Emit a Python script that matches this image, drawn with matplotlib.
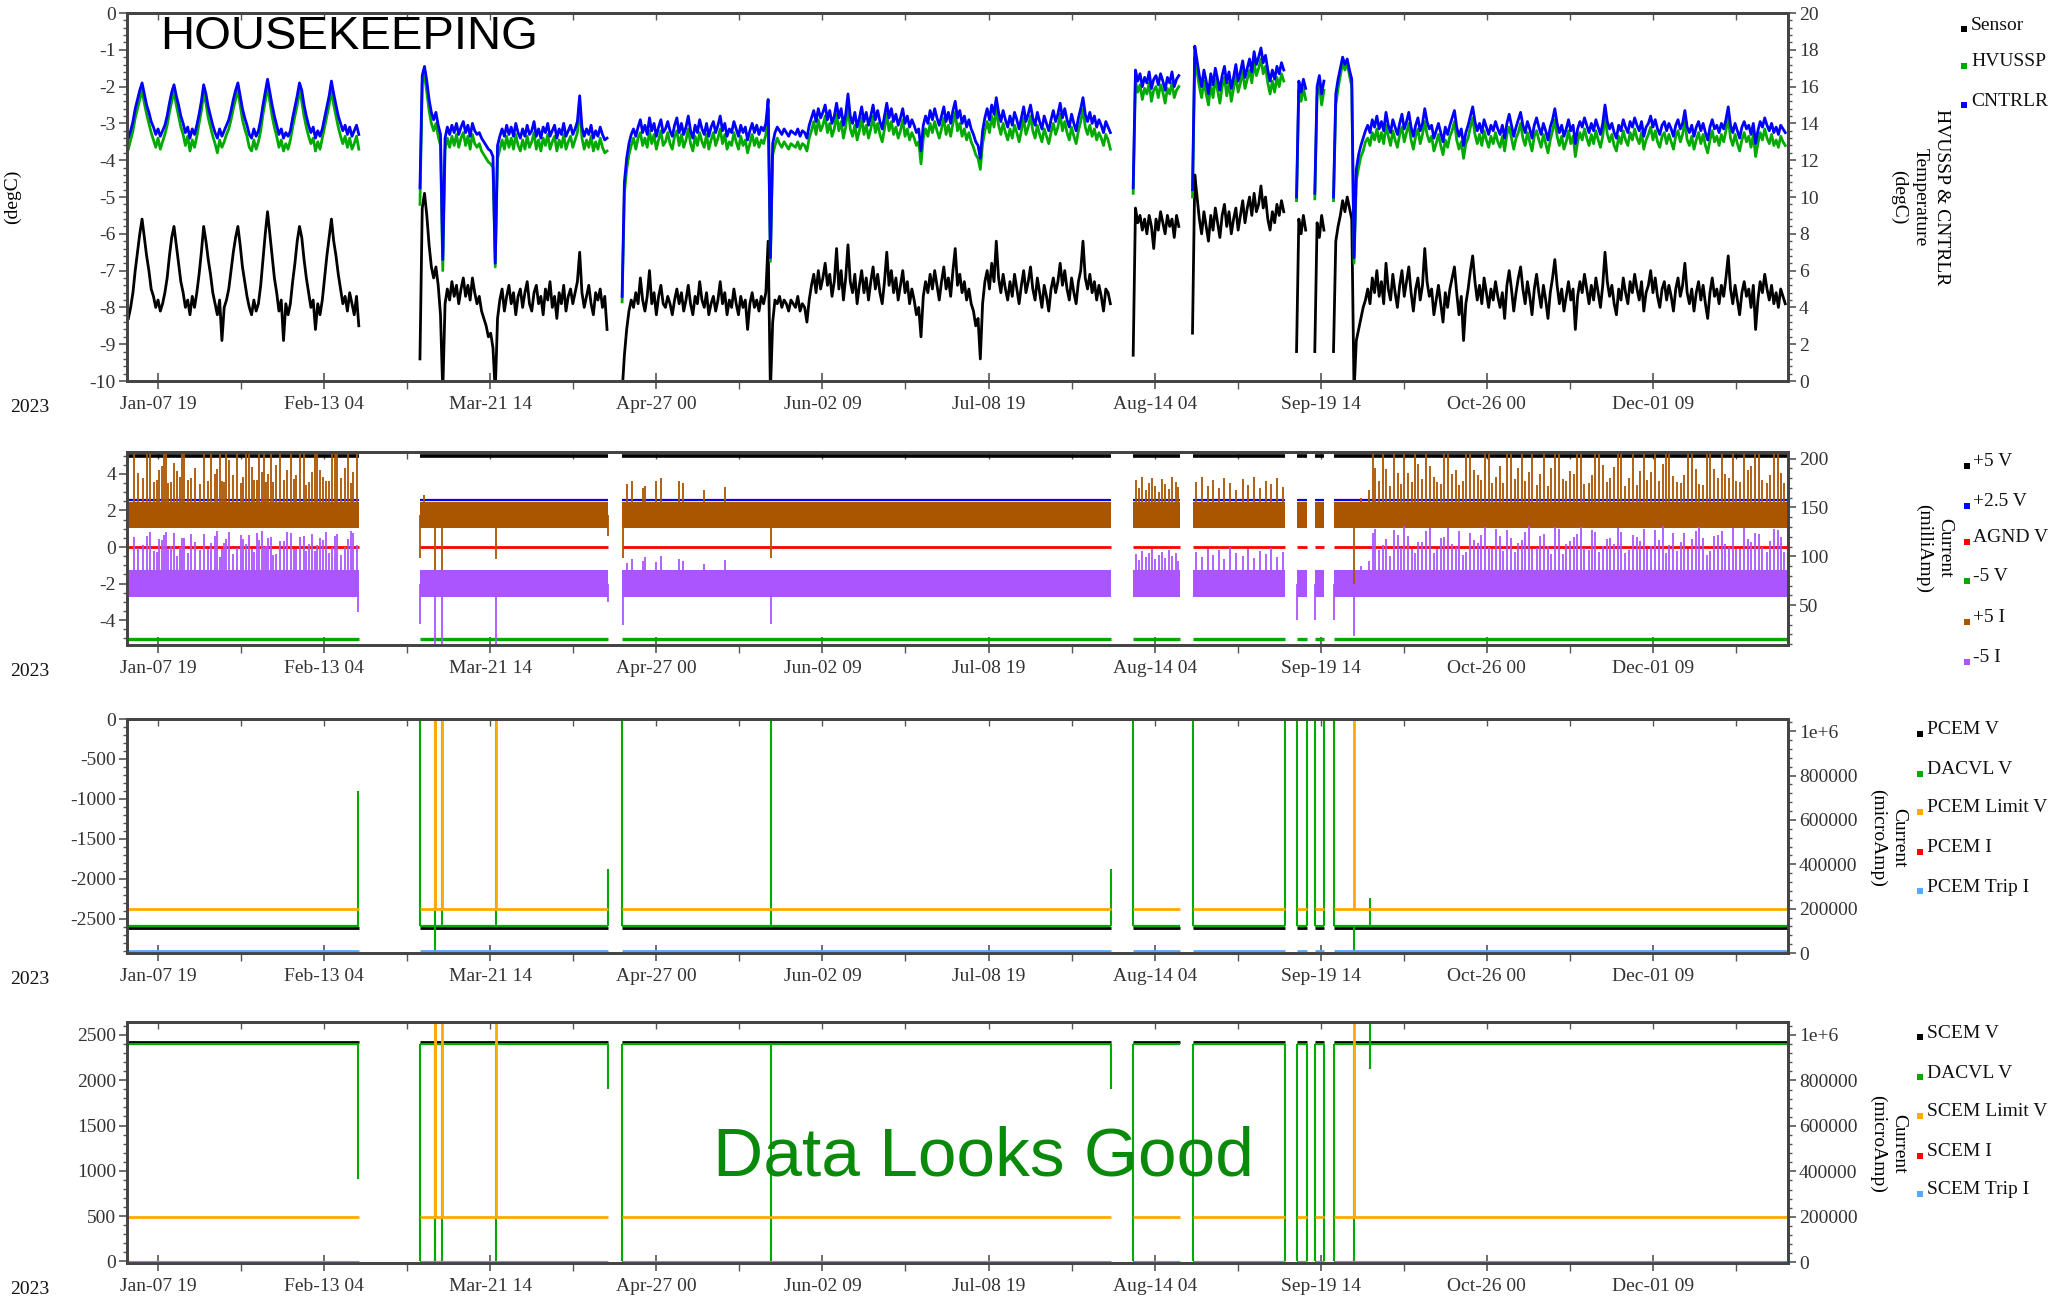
import matplotlib
matplotlib.use('Agg')
import matplotlib.pyplot as plt
import numpy as np
from matplotlib.ticker import MultipleLocator, FixedLocator, FuncFormatter, NullFormatter
from matplotlib.patches import Rectangle

plt.rcParams['font.family'] = ['Liberation Serif', 'DejaVu Serif']
plt.rcParams['axes.unicode_minus'] = False

# ---------------- data (x = days since 2023-01-01) ----------------
# data blocks (gaps in telemetry between them)
seg_start = [0.3, 64.2, 108.5, 220.5, 233.5, 256.3, 260.3, 264.4]
seg_end = [50.8, 105.4, 215.7, 230.7, 253.8, 258.5, 262.4, 363.8]
SAMPLE = 0.5  # days between plotted temperature samples

tick_labels = ['Jan-07 19', 'Feb-13 04', 'Mar-21 14', 'Apr-27 00', 'Jun-02 09',
               'Jul-08 19', 'Aug-14 04', 'Sep-19 14', 'Oct-26 00', 'Dec-01 09']

# Sensor temperature (left axis, degC), one list per data block
sensor_degC = [
    [-8.3, -8.0, -7.6, -7.0, -6.5, -6.0, -5.6, -6.1, -6.6, -7.0,
     -7.5, -7.7, -8.0, -7.8, -8.1, -7.9, -7.6, -7.2, -6.6, -6.1,
     -5.8, -6.3, -6.8, -7.3, -7.6, -8.0, -7.8, -8.2, -7.7, -8.0,
     -7.6, -7.1, -6.5, -5.8, -6.2, -6.7, -7.1, -7.6, -7.9, -8.2,
     -7.8, -8.9, -8.0, -7.8, -7.5, -7.0, -6.5, -6.1, -5.8, -6.3,
     -6.9, -7.3, -7.7, -8.0, -8.2, -7.8, -8.1, -7.9, -7.4, -6.7,
     -6.0, -5.4, -6.0, -6.6, -7.2, -7.6, -8.1, -7.8, -8.9, -7.9,
     -8.2, -7.9, -7.3, -6.8, -6.2, -5.8, -6.1, -6.7, -7.2, -7.6,
     -8.0, -7.8, -8.6, -7.9, -8.2, -7.8, -7.2, -6.6, -6.1, -5.6,
     -6.2, -6.6, -7.1, -7.5, -7.9, -7.7, -8.1, -7.6, -7.9, -8.2,
     -7.7, -8.5],
    [-9.4, -5.3, -4.9, -5.5, -6.3, -6.9, -7.2, -6.9, -7.4, -8.2,
     -10.3, -7.9, -7.5, -7.8, -7.3, -7.7, -7.4, -7.9, -7.5, -7.2,
     -7.7, -7.4, -7.8, -7.2, -7.6, -7.9, -7.7, -8.1, -8.3, -8.5,
     -8.8, -8.7, -9.1, -10.3, -8.3, -7.8, -7.5, -8.1, -7.7, -7.4,
     -7.9, -7.6, -8.2, -7.7, -7.5, -8.0, -7.6, -7.3, -7.9, -8.1,
     -7.6, -7.4, -7.9, -7.7, -8.2, -7.5, -7.8, -7.3, -8.0, -7.7,
     -8.3, -7.6, -7.9, -7.4, -8.1, -7.7, -7.5, -7.9, -7.6, -7.3,
     -6.5, -7.6, -8.0, -7.7, -7.4, -7.9, -8.2, -7.6, -7.8, -7.5,
     -8.0, -7.7, -8.6],
    [-10.3, -9.3, -8.6, -8.1, -7.8, -8.0, -7.6, -7.9, -7.2, -7.8,
     -8.1, -7.7, -7.0, -7.9, -7.6, -8.2, -7.7, -7.4, -7.9, -8.0,
     -7.7, -7.9, -8.2, -7.8, -7.5, -7.9, -7.6, -8.1, -7.8, -7.4,
     -7.9, -8.2, -7.7, -7.9, -7.3, -7.8, -8.0, -7.6, -8.2, -7.9,
     -7.7, -8.1, -7.8, -7.3, -7.9, -7.6, -8.2, -7.8, -8.0, -7.5,
     -7.9, -8.2, -7.7, -8.0, -7.8, -8.6, -7.9, -7.6, -8.0, -7.8,
     -8.1, -7.7, -7.9, -7.6, -6.2, -10.3, -8.4, -7.8, -7.9, -7.7,
     -8.0, -7.8, -7.9, -8.1, -7.8, -7.9, -8.0, -7.7, -8.1, -7.9,
     -8.0, -8.4, -7.8, -7.4, -7.1, -7.6, -7.0, -7.5, -7.2, -6.8,
     -7.4, -7.1, -7.7, -7.3, -6.4, -7.5, -7.0, -7.8, -7.2, -6.3,
     -7.3, -7.6, -7.1, -7.9, -7.4, -7.0, -7.6, -7.2, -7.8, -7.3,
     -6.9, -7.5, -7.1, -7.6, -7.9, -7.3, -6.5, -7.4, -7.0, -7.6,
     -7.2, -7.8, -7.4, -7.0, -7.6, -7.3, -7.9, -7.5, -7.8, -8.2,
     -8.0, -8.8, -7.7, -7.3, -7.6, -7.1, -7.5, -7.0, -7.4, -7.8,
     -7.3, -6.9, -7.5, -7.2, -7.7, -7.0, -6.4, -7.4, -7.1, -7.6,
     -7.3, -7.8, -7.5, -7.9, -8.1, -8.5, -8.3, -9.4, -7.9, -7.3,
     -7.0, -7.5, -6.8, -7.3, -6.2, -7.2, -7.6, -7.1, -7.5, -7.8,
     -7.3, -7.7, -7.1, -7.5, -7.9, -7.4, -7.0, -7.6, -7.3, -6.9,
     -7.5, -7.8, -7.2, -7.6, -8.0, -7.4, -7.7, -8.1, -7.5, -7.2,
     -7.6, -7.3, -6.8, -7.4, -7.0, -7.5, -7.8, -7.2, -7.6, -7.9,
     -7.3, -7.0, -6.2, -7.2, -7.5, -7.1, -7.6, -7.3, -7.8, -7.4,
     -7.7, -8.1, -7.5, -7.6, -7.9],
    [-9.3, -5.3, -5.7, -5.5, -5.9, -5.6, -6.0, -5.5, -5.8, -6.4,
     -5.6, -5.9, -5.4, -5.7, -6.0, -5.5, -5.8, -5.6, -6.1, -5.5, -5.8],
    [-8.7, -4.4, -5.0, -5.6, -6.0, -5.4, -5.8, -6.2, -5.5, -5.9,
     -5.3, -5.7, -6.1, -5.5, -5.2, -5.8, -5.4, -6.0, -5.6, -5.3,
     -5.9, -5.5, -5.1, -5.7, -5.3, -5.0, -5.5, -4.9, -5.4, -5.2,
     -4.7, -5.3, -5.0, -5.6, -5.9, -5.4, -5.7, -5.2, -5.5, -5.1, -5.4],
    [-9.2, -5.6, -6.0, -5.5, -5.9],
    [-9.2, -5.7, -6.1, -5.5, -5.9],
    [-9.2, -6.2, -5.8, -5.5, -5.1, -5.4, -5.0, -5.3, -5.6,
     -10.3, -8.9, -8.6, -8.3, -8.0, -7.8, -7.5, -7.9, -7.2, -7.6,
     -7.0, -7.7, -7.3, -7.9, -6.8, -7.5, -7.8, -7.1, -7.6, -8.0,
     -7.4, -7.0, -7.7, -7.3, -6.9, -7.6, -8.1, -7.5, -7.2, -7.8,
     -7.4, -6.4, -7.3, -7.7, -7.5, -8.2, -7.8, -7.4, -7.9, -8.4,
     -7.6, -8.0, -7.5, -7.2, -6.9, -7.6, -8.2, -7.7, -8.9, -7.9,
     -7.5, -7.0, -6.6, -7.3, -7.8, -7.4, -7.9, -7.2, -7.6, -8.0,
     -7.5, -7.8, -7.3, -7.7, -8.0, -7.6, -8.3, -7.4, -7.0, -7.5,
     -8.1, -7.6, -7.2, -6.9, -7.5, -7.9, -7.3, -7.7, -8.2, -7.5,
     -7.1, -7.6, -8.0, -7.4, -7.8, -8.3, -7.6, -7.2, -6.7, -7.4,
     -7.9, -7.5, -8.1, -7.7, -7.3, -7.8, -7.5, -8.6, -7.7, -7.3,
     -7.6, -7.1, -7.5, -7.9, -7.4, -7.8, -7.2, -7.6, -8.0, -7.4,
     -6.5, -7.3, -7.7, -7.4, -7.9, -8.2, -7.5, -7.8, -7.2, -7.6,
     -7.9, -7.3, -7.6, -7.1, -7.5, -7.8, -7.3, -8.1, -7.6, -7.4,
     -7.0, -7.6, -7.2, -7.7, -8.0, -7.5, -7.3, -7.8, -7.4, -7.7,
     -8.1, -7.5, -7.2, -7.7, -7.4, -6.8, -7.6, -7.9, -7.5, -8.1,
     -7.6, -7.3, -7.8, -7.4, -7.9, -8.3, -7.6, -7.2, -7.7, -7.5,
     -7.9, -7.4, -7.7, -7.2, -6.6, -7.5, -7.9, -7.4, -7.8, -8.2,
     -7.6, -7.3, -7.7, -7.5, -8.0, -7.4, -8.6, -7.8, -7.3, -7.6,
     -7.1, -7.5, -7.8, -7.4, -7.9, -7.6, -8.0, -7.5, -7.7, -7.9],
]

# HVUSSP temperature (right axis, degC)
hvussp_degC = [
    [12.6, 13.1, 13.6, 14.3, 14.8, 15.3, 15.8, 15.1, 14.5, 14.0,
     13.5, 13.1, 12.7, 13.2, 12.6, 13.0, 13.4, 13.9, 14.6, 15.2,
     15.7, 15.0, 14.4, 13.8, 13.4, 12.8, 13.3, 12.5, 13.1, 12.7,
     13.3, 14.0, 14.7, 15.6, 15.1, 14.3, 13.8, 13.3, 12.9, 12.4,
     13.1, 12.7, 13.0, 13.4, 13.7, 14.2, 14.8, 15.3, 15.8, 15.0,
     14.2, 13.7, 13.3, 12.7, 12.5, 13.1, 12.6, 13.0, 13.6, 14.5,
     15.2, 16.0, 15.2, 14.4, 13.8, 13.3, 12.7, 13.1, 12.5, 12.9,
     12.6, 13.1, 13.8, 14.4, 15.0, 15.8, 15.2, 14.4, 13.8, 13.3,
     12.9, 13.2, 12.5, 13.0, 12.6, 13.2, 13.8, 14.4, 15.0, 15.8,
     15.0, 14.4, 13.8, 13.3, 12.9, 13.3, 12.7, 13.2, 12.6, 12.9,
     13.3, 12.6],
    [9.6, 16.2, 16.6, 15.7, 14.7, 14.0, 13.6, 14.0, 13.3, 12.8,
     6.0, 12.6, 13.2, 12.7, 13.3, 12.8, 13.4, 12.7, 13.2, 13.5,
     12.8, 13.3, 12.6, 13.4, 12.9, 12.7, 12.9, 12.5, 12.3, 12.1,
     11.9, 11.8, 11.6, 6.2, 12.1, 12.6, 13.1, 12.6, 13.3, 12.7,
     13.2, 12.6, 13.4, 12.8, 12.5, 13.1, 12.6, 13.3, 12.7, 13.0,
     13.5, 12.6, 13.1, 12.5, 13.2, 12.8, 13.4, 12.6, 13.0, 13.3,
     12.5, 13.1, 12.7, 13.4, 12.6, 13.0, 13.3, 12.7, 13.1, 13.5,
     15.0, 13.2, 12.6, 13.1, 12.7, 13.3, 12.5, 13.0, 12.6, 13.2,
     12.7, 12.4, 12.5],
    [4.3, 10.2, 11.5, 12.3, 12.8, 13.2, 12.6, 13.2, 13.5, 12.8,
     13.2, 12.7, 13.6, 12.9, 13.4, 12.6, 13.1, 13.6, 12.8, 13.0,
     13.5, 12.9, 12.6, 13.3, 13.6, 12.8, 13.4, 12.7, 13.1, 13.7,
     12.9, 12.5, 13.3, 12.8, 13.5, 13.0, 12.7, 13.4, 12.6, 13.1,
     13.5, 12.8, 13.2, 13.7, 12.9, 13.4, 12.6, 13.0, 12.8, 13.5,
     13.0, 12.6, 13.3, 12.8, 13.1, 12.4, 12.9, 13.4, 12.8, 13.2,
     12.7, 13.1, 12.9, 13.4, 14.8, 6.5, 12.3, 12.8, 13.2, 12.9,
     12.7, 13.0, 12.8, 12.6, 12.9, 12.8, 12.7, 13.0, 12.6, 12.9,
     12.8, 12.5, 13.2, 13.6, 14.1, 13.4, 14.2, 13.6, 13.9, 14.4,
     13.5, 14.0, 13.3, 13.7, 14.5, 13.6, 14.1, 13.2, 13.8, 15.0,
     13.7, 13.3, 13.9, 13.1, 13.6, 14.3, 13.4, 13.9, 13.2, 13.7,
     14.4, 13.5, 14.0, 13.4, 13.0, 13.7, 14.5, 13.6, 14.1, 13.4,
     13.8, 13.2, 13.6, 14.2, 13.3, 13.7, 13.1, 13.5, 13.2, 12.8,
     13.0, 11.8, 13.2, 13.7, 13.3, 14.0, 13.5, 14.1, 13.6, 13.2,
     13.7, 14.3, 13.4, 13.9, 13.3, 14.0, 14.6, 13.6, 14.0, 13.3,
     13.7, 13.1, 13.5, 13.0, 12.7, 12.3, 12.1, 11.5, 12.9, 13.6,
     14.1, 13.5, 14.4, 13.8, 14.8, 13.9, 13.4, 14.0, 13.5, 13.1,
     13.7, 13.2, 13.9, 13.5, 13.0, 13.6, 14.3, 13.4, 13.8, 14.4,
     13.6, 13.2, 13.9, 13.4, 13.0, 13.7, 13.3, 12.9, 13.5, 14.0,
     13.4, 13.8, 14.5, 13.6, 14.1, 13.5, 13.1, 13.8, 13.3, 12.9,
     13.6, 14.1, 14.8, 13.8, 13.4, 13.9, 13.3, 13.7, 13.1, 13.5,
     13.2, 12.8, 13.4, 13.1, 12.6],
    [10.2, 16.3, 15.7, 16.1, 15.3, 15.9, 15.6, 16.2, 15.2, 15.8,
     16.0, 15.4, 16.1, 15.7, 15.1, 15.9, 15.6, 16.2, 15.4, 15.8, 16.0],
    [10.0, 17.6, 16.8, 16.0, 15.4, 16.3, 15.6, 15.0, 16.1, 15.4,
     16.4, 15.8, 15.1, 16.0, 16.5, 15.5, 16.2, 15.2, 15.9, 16.6,
     15.7, 16.2, 16.8, 15.9, 16.4, 16.9, 16.2, 17.3, 16.6, 17.0,
     17.5, 16.7, 17.1, 16.2, 15.6, 16.3, 15.7, 16.5, 16.0, 16.7, 16.3],
    [9.8, 15.8, 15.2, 15.9, 15.3],
    [9.9, 15.5, 16.1, 15.0, 15.8],
    [9.8, 15.0, 15.9, 16.6, 17.3, 16.9, 17.3, 16.6, 16.0,
     6.4, 10.9, 11.6, 12.2, 12.5, 13.0, 13.2, 12.8, 13.5, 13.1,
     13.7, 13.0, 13.5, 12.9, 13.9, 13.3, 12.8, 13.6, 13.1, 12.7,
     13.4, 13.8, 13.0, 13.5, 14.0, 13.1, 12.6, 13.3, 13.7, 12.9,
     13.4, 14.1, 13.4, 13.0, 13.3, 12.5, 12.9, 13.4, 12.8, 12.3,
     13.1, 12.7, 13.3, 13.6, 14.1, 13.1, 12.6, 13.0, 12.1, 12.9,
     13.2, 13.8, 14.3, 13.4, 12.9, 13.4, 12.8, 13.6, 13.1, 12.7,
     13.3, 12.9, 13.5, 13.0, 12.7, 13.3, 12.5, 13.4, 13.8, 13.2,
     12.6, 13.2, 13.5, 14.0, 13.2, 12.8, 13.5, 13.0, 12.5, 13.3,
     13.6, 13.1, 12.7, 13.4, 12.9, 12.4, 13.1, 13.6, 14.2, 13.3,
     12.8, 13.3, 12.6, 13.0, 13.6, 12.9, 13.3, 12.2, 13.0, 13.5,
     13.1, 13.7, 13.2, 12.8, 13.4, 12.9, 13.6, 13.1, 12.7, 13.3,
     14.4, 13.4, 13.0, 13.4, 12.8, 12.5, 13.3, 12.9, 13.6, 13.1,
     12.8, 13.5, 13.1, 13.7, 13.2, 12.9, 13.5, 12.6, 13.1, 13.4,
     13.8, 13.1, 13.6, 13.0, 12.7, 13.3, 13.5, 12.9, 13.4, 13.0,
     12.6, 13.3, 13.6, 13.0, 13.4, 14.1, 13.1, 12.8, 13.3, 12.6,
     13.1, 13.5, 12.9, 13.4, 12.8, 12.4, 13.1, 13.6, 13.0, 13.3,
     12.8, 13.4, 13.0, 13.6, 14.3, 13.2, 12.8, 13.4, 12.9, 12.5,
     13.1, 13.5, 13.0, 13.3, 12.7, 13.4, 12.2, 12.9, 13.5, 13.1,
     13.7, 13.2, 12.9, 13.4, 12.8, 13.1, 12.7, 13.3, 13.0, 12.8],
]

# CNTRLR temperature (right axis, degC)
cntrlr_degC = [
    [13.2, 13.6, 14.1, 14.8, 15.3, 15.8, 16.2, 15.6, 15.0, 14.6,
     14.1, 13.8, 13.4, 13.7, 13.3, 13.6, 13.9, 14.4, 15.1, 15.7,
     16.1, 15.5, 15.0, 14.4, 14.0, 13.5, 13.8, 13.2, 13.7, 13.4,
     13.9, 14.5, 15.2, 16.1, 15.6, 14.9, 14.4, 13.9, 13.5, 13.2,
     13.7, 13.3, 13.6, 13.9, 14.2, 14.7, 15.3, 15.8, 16.2, 15.5,
     14.8, 14.3, 13.9, 13.4, 13.2, 13.7, 13.3, 13.6, 14.2, 15.0,
     15.7, 16.4, 15.7, 15.0, 14.4, 13.9, 13.4, 13.7, 13.2, 13.5,
     13.3, 13.6, 14.3, 14.9, 15.5, 16.2, 15.8, 15.0, 14.4, 13.9,
     13.5, 13.8, 13.2, 13.6, 13.3, 13.7, 14.3, 14.9, 15.5, 16.3,
     15.6, 15.0, 14.4, 14.0, 13.6, 13.9, 13.4, 13.8, 13.3, 13.6,
     13.9, 13.4],
    [10.5, 16.6, 17.1, 16.3, 15.3, 14.6, 14.2, 14.6, 13.9, 13.4,
     6.6, 13.2, 13.8, 13.4, 13.9, 13.5, 14.0, 13.4, 13.8, 14.1,
     13.5, 13.9, 13.3, 14.0, 13.6, 13.4, 13.5, 13.2, 13.0, 12.8,
     12.6, 12.5, 12.2, 6.4, 12.8, 13.3, 13.7, 13.3, 13.9, 13.4,
     13.8, 13.3, 14.0, 13.5, 13.2, 13.7, 13.3, 13.9, 13.4, 13.6,
     14.1, 13.3, 13.7, 13.2, 13.8, 13.5, 14.0, 13.3, 13.6, 13.9,
     13.2, 13.7, 13.4, 14.0, 13.3, 13.6, 13.9, 13.4, 13.7, 14.1,
     15.5, 13.8, 13.3, 13.7, 13.4, 13.9, 13.2, 13.6, 13.3, 13.8,
     13.4, 13.1, 13.2],
    [4.6, 10.8, 12.1, 12.9, 13.4, 13.7, 13.3, 13.8, 14.2, 13.5,
     13.9, 13.4, 14.3, 13.6, 14.0, 13.3, 13.8, 14.2, 13.5, 13.7,
     14.1, 13.6, 13.3, 13.9, 14.3, 13.5, 14.0, 13.4, 13.8, 14.4,
     13.6, 13.2, 13.9, 13.5, 14.2, 13.7, 13.4, 14.0, 13.3, 13.8,
     14.1, 13.5, 13.9, 14.4, 13.6, 14.0, 13.3, 13.7, 13.5, 14.1,
     13.7, 13.3, 13.9, 13.5, 13.8, 13.1, 13.6, 14.0, 13.5, 13.9,
     13.4, 13.8, 13.6, 14.0, 15.3, 6.7, 12.9, 13.5, 13.8, 13.6,
     13.4, 13.7, 13.5, 13.3, 13.6, 13.5, 13.4, 13.7, 13.3, 13.6,
     13.5, 13.2, 13.9, 14.3, 14.7, 14.1, 14.8, 14.3, 14.6, 15.0,
     14.2, 14.7, 14.0, 14.4, 15.1, 14.3, 14.8, 13.9, 14.5, 15.6,
     14.4, 14.0, 14.6, 13.8, 14.3, 14.9, 14.1, 14.6, 13.9, 14.4,
     15.0, 14.2, 14.7, 14.1, 13.7, 14.4, 15.1, 14.3, 14.8, 14.1,
     14.5, 13.9, 14.3, 14.8, 14.0, 14.4, 13.8, 14.2, 13.9, 13.5,
     13.7, 12.5, 13.9, 14.4, 14.0, 14.7, 14.2, 14.8, 14.3, 13.9,
     14.4, 14.9, 14.1, 14.6, 14.0, 14.7, 15.2, 14.3, 14.7, 14.0,
     14.4, 13.8, 14.2, 13.7, 13.4, 13.0, 12.8, 12.1, 13.6, 14.3,
     14.8, 14.2, 15.0, 14.5, 15.4, 14.6, 14.1, 14.7, 14.2, 13.8,
     14.4, 13.9, 14.6, 14.2, 13.7, 14.3, 14.9, 14.1, 14.5, 15.0,
     14.3, 13.9, 14.6, 14.1, 13.7, 14.4, 14.0, 13.6, 14.2, 14.7,
     14.1, 14.5, 15.1, 14.3, 14.8, 14.2, 13.8, 14.5, 14.0, 13.6,
     14.3, 14.8, 15.4, 14.5, 14.1, 14.6, 14.0, 14.4, 13.8, 14.2,
     13.9, 13.5, 14.1, 13.8, 13.5],
    [10.5, 16.9, 16.3, 16.7, 16.0, 16.5, 16.2, 16.8, 15.9, 16.4,
     16.6, 16.1, 16.7, 16.3, 15.8, 16.5, 16.2, 16.8, 16.0, 16.4, 16.6],
    [10.4, 18.2, 17.4, 16.6, 16.0, 16.9, 16.3, 15.6, 16.7, 16.1,
     17.0, 16.4, 15.8, 16.6, 17.1, 16.2, 16.8, 15.9, 16.5, 17.2,
     16.3, 16.8, 17.4, 16.5, 17.0, 17.5, 16.8, 17.9, 17.2, 17.6,
     18.1, 17.3, 17.7, 16.9, 16.3, 16.9, 16.4, 17.1, 16.7, 17.3, 16.9],
    [10.0, 16.3, 15.7, 16.4, 15.9],
    [10.2, 16.0, 16.6, 15.6, 16.3],
    [10.0, 15.6, 16.4, 17.0, 17.6, 17.2, 17.5, 16.9, 16.4,
     6.7, 11.5, 12.3, 12.8, 13.2, 13.6, 13.9, 13.5, 14.2, 13.8,
     14.4, 13.7, 14.1, 13.6, 14.6, 13.9, 13.5, 14.2, 13.8, 13.4,
     14.0, 14.5, 13.7, 14.1, 14.6, 13.8, 13.3, 13.9, 14.3, 13.6,
     14.0, 14.8, 14.1, 13.7, 13.9, 13.2, 13.6, 14.0, 13.5, 13.0,
     13.8, 13.4, 13.9, 14.3, 14.7, 13.8, 13.3, 13.7, 12.8, 13.5,
     13.9, 14.4, 14.9, 14.1, 13.6, 14.0, 13.5, 14.2, 13.8, 13.4,
     13.9, 13.6, 14.1, 13.7, 13.4, 13.9, 13.2, 14.0, 14.5, 13.9,
     13.3, 13.8, 14.2, 14.6, 13.9, 13.5, 14.1, 13.7, 13.2, 13.9,
     14.3, 13.8, 13.4, 14.0, 13.6, 13.1, 13.8, 14.2, 14.8, 14.0,
     13.5, 13.9, 13.3, 13.7, 14.2, 13.6, 13.9, 12.9, 13.7, 14.1,
     13.8, 14.3, 13.9, 13.5, 14.0, 13.6, 14.2, 13.8, 13.4, 14.0,
     15.0, 14.1, 13.7, 14.0, 13.5, 13.2, 13.9, 13.6, 14.2, 13.8,
     13.5, 14.1, 13.8, 14.3, 13.9, 13.6, 14.1, 13.3, 13.8, 14.0,
     14.4, 13.8, 14.2, 13.7, 13.4, 13.9, 14.1, 13.6, 14.0, 13.7,
     13.3, 13.9, 14.2, 13.7, 14.0, 14.7, 13.8, 13.5, 13.9, 13.3,
     13.8, 14.1, 13.6, 14.0, 13.5, 13.1, 13.8, 14.2, 13.7, 13.9,
     13.5, 14.0, 13.7, 14.2, 14.9, 13.9, 13.5, 14.0, 13.6, 13.2,
     13.8, 14.1, 13.7, 13.9, 13.4, 14.0, 12.9, 13.6, 14.1, 13.8,
     14.3, 13.9, 13.6, 14.0, 13.5, 13.8, 13.4, 13.9, 13.7, 13.5],
]

# ---- panel 2: supply rails (V, left) and currents (mA, right) ----
rail_plus5v = 5.0
rail_plus2p5v = 2.55
rail_agnd = 0.0
rail_minus5v = -5.05
plus5i_band = [129.5, 155.5]
minus5i_band = [58.5, 85.5]

plus5i_spike_day = [1.5, 3.6, 5.1, 5.9, 7.1, 8.0, 9.0, 10.2, 11.6, 12.6, 13.3, 15.0, 16.8, 17.7,
                    19.2, 20.4, 21.3, 22.3, 24.2, 25.5, 26.7, 27.8, 28.9, 29.6, 30.5, 31.5, 32.7,
                    34.4, 35.9, 37.1, 38.8, 39.9, 41.2, 42.2, 43.6, 44.9, 46.1, 47.0, 48.5, 49.5, 50.3,
                    64.3, 65.0, 67.4, 69.0, 80.8, 105.3, 108.6, 141.2,
                    109.6, 110.6, 113.1, 113.5, 116.0, 117.0, 120.9, 121.9, 126.5, 131.0,
                    221.2, 221.8, 222.5, 223.3, 224.0, 224.6, 225.3, 226.1, 226.8, 227.5, 228.3,
                    229.0, 229.8, 230.4,
                    234.3, 235.5, 236.8, 238.0, 239.4, 240.5, 241.8, 243.1, 244.5, 245.7, 246.9,
                    248.2, 249.5, 250.8, 252.0, 253.3, 268.9,
                    270.5, 272.1, 273.4, 275.2, 276.8, 278.5, 279.9, 281.6, 283.0, 284.7,
                    286.4, 287.9, 289.5, 291.2, 292.8, 294.3, 296.0, 297.6, 299.2, 300.9,
                    302.4, 304.1, 305.7, 307.2, 308.9, 310.5, 312.1, 313.8, 315.4, 317.0,
                    318.6, 320.3, 321.8, 323.5, 325.1, 326.7, 328.3, 330.0, 331.6, 333.2,
                    334.9, 336.5, 338.0, 339.7, 341.3, 343.0, 344.6, 346.2, 347.8, 349.5,
                    351.1, 352.7, 354.4, 356.0, 357.6, 359.3, 360.9, 362.5,
                    2.5, 4.4, 6.5, 7.6, 8.5, 9.6, 10.9, 12.1, 14.1, 15.9,
                    18.4, 19.8, 20.9, 21.8, 23.2, 24.9, 26.1, 27.3, 28.4, 30.0,
                    31.0, 32.1, 33.5, 35.1, 36.5, 37.9, 39.3, 40.5, 41.7, 42.9,
                    44.2, 45.5, 47.7, 49.0,
                    273.0, 274.3, 276.0, 277.6, 279.2, 280.8, 282.3, 283.9, 285.5, 287.1,
                    288.7, 290.3, 292.0, 293.5, 295.1, 296.8, 298.4, 300.0, 301.6, 303.2,
                    304.9, 306.4, 308.0, 309.7, 311.3, 312.9, 314.6, 316.2, 317.8, 319.4,
                    321.0, 322.6, 324.3, 325.9, 327.5, 329.1, 330.8, 332.4, 334.0, 335.7,
                    337.2, 338.8, 340.5, 342.1, 343.8, 345.4, 347.0, 348.6, 350.3, 351.9,
                    353.5, 355.2, 356.8, 358.4, 360.1, 361.7, 363.2]
plus5i_spike_mA = [206, 180, 206, 176, 188, 206, 175, 196, 181, 206, 178, 190, 206, 177,
                   184, 206, 176, 199, 206, 181, 206, 178, 206, 186, 176, 206, 193,
                   178, 206, 183, 206, 176, 206, 188, 177, 206, 206, 180, 206, 186, 206,
                   98, 163, 86, 86, 97, 121, 98, 98,
                   174, 177, 170, 172, 177, 180, 177, 175, 168, 171,
                   178, 170, 181, 168, 175, 180, 172, 166, 179, 174, 169,
                   181, 176, 171,
                   176, 181, 172, 178, 170, 180, 175, 168, 179, 173, 181,
                   170, 177, 174, 180, 171, 71,
                   160, 168, 190, 206, 172, 185, 206, 176, 195, 206,
                   181, 174, 206, 188, 177, 206, 183, 206, 175, 192,
                   206, 179, 206, 186, 173, 206, 190, 206, 177, 184,
                   206, 175, 206, 193, 180, 206, 172, 206, 187, 178,
                   206, 195, 206, 176, 183, 206, 174, 206, 189, 206,
                   180, 177, 206, 192, 206, 175, 206, 185,
                   185, 206, 178, 192, 206, 176, 187, 206, 180, 174,
                   206, 189, 177, 206, 183, 175, 206, 191, 178, 206,
                   184, 176, 206, 188, 179, 206, 173, 186, 206, 181,
                   177, 206, 190, 175,
                   206, 177, 189, 206, 174, 185, 206, 179, 192,
                   176, 206, 184, 173, 206, 188, 178, 206, 181, 175,
                   206, 190, 177, 206, 184, 172, 206, 179, 187, 206,
                   174, 183, 206, 176, 191, 206, 180, 173, 206, 186,
                   177, 206, 182, 175, 206, 189, 173, 206, 180, 184,
                   206, 176, 188, 206, 178, 183, 206, 175]

minus5i_spike_day = [1.5, 3.6, 5.1, 5.9, 7.1, 8.0, 9.0, 10.2, 11.6, 12.6, 13.3, 15.0, 16.8, 17.7,
                     19.2, 20.4, 21.3, 22.3, 24.2, 25.5, 26.7, 27.8, 28.9, 29.6, 30.5, 31.5, 32.7,
                     34.4, 35.9, 37.1, 38.8, 39.9, 41.2, 42.2, 43.6, 44.9, 46.1, 47.0, 48.5, 49.5, 50.3,
                     50.7, 64.3, 67.4, 69.0, 80.8, 105.3, 108.6, 141.2, 256.3, 260.3, 264.4, 268.9,
                     109.6, 110.6, 113.1, 113.5, 116.0, 117.0, 120.9, 121.9, 126.5, 131.0,
                     221.2, 221.8, 222.5, 223.3, 224.0, 224.6, 225.3, 226.1, 226.8, 227.5, 228.3,
                     229.0, 229.8, 230.4,
                     234.3, 235.5, 236.8, 238.0, 239.4, 240.5, 241.8, 243.1, 244.5, 245.7, 246.9,
                     248.2, 249.5, 250.8, 252.0, 253.3,
                     270.5, 272.1, 273.4, 275.2, 276.8, 278.5, 279.9, 281.6, 283.0, 284.7,
                     286.4, 287.9, 289.5, 291.2, 292.8, 294.3, 296.0, 297.6, 299.2, 300.9,
                     302.4, 304.1, 305.7, 307.2, 308.9, 310.5, 312.1, 313.8, 315.4, 317.0,
                     318.6, 320.3, 321.8, 323.5, 325.1, 326.7, 328.3, 330.0, 331.6, 333.2,
                     334.9, 336.5, 338.0, 339.7, 341.3, 343.0, 344.6, 346.2, 347.8, 349.5,
                     351.1, 352.7, 354.4, 356.0, 357.6, 359.3, 360.9, 362.5,
                     2.5, 4.4, 6.5, 7.6, 8.5, 9.6, 10.9, 12.1, 14.1, 15.9,
                     18.4, 19.8, 20.9, 21.8, 23.2, 24.9, 26.1, 27.3, 28.4, 30.0,
                     31.0, 32.1, 33.5, 35.1, 36.5, 37.9, 39.3, 40.5, 41.7, 42.9,
                     44.2, 45.5, 47.7, 49.0,
                     273.0, 274.3, 276.0, 277.6, 279.2, 280.8, 282.3, 283.9, 285.5, 287.1,
                     288.7, 290.3, 292.0, 293.5, 295.1, 296.8, 298.4, 300.0, 301.6, 303.2,
                     304.9, 306.4, 308.0, 309.7, 311.3, 312.9, 314.6, 316.2, 317.8, 319.4,
                     321.0, 322.6, 324.3, 325.9, 327.5, 329.1, 330.8, 332.4, 334.0, 335.7,
                     337.2, 338.8, 340.5, 342.1, 343.8, 345.4, 347.0, 348.6, 350.3, 351.9,
                     353.5, 355.2, 356.8, 358.4, 360.1, 361.7, 363.2]
minus5i_spike_mA = [120, 112, 125, 105, 118, 122, 108, 124, 110, 119, 103, 115, 123, 107,
                    121, 99, 114, 125, 109, 118, 122, 104, 117, 126, 111, 120, 102,
                    116, 124, 108, 121, 113, 105, 119, 125, 110, 123, 101, 118, 124, 112,
                    43, 31, 9, 9, 9, 53, 30, 31, 35, 35, 35, 18,
                    93, 97, 95, 99, 94, 100, 97, 95, 92, 96,
                    102, 96, 105, 99, 103, 107, 97, 101, 104, 98, 106,
                    100, 103, 95,
                    104, 99, 108, 101, 106, 97, 110, 103, 100, 107, 98,
                    105, 102, 109, 99, 104,
                    90, 95, 128, 112, 100, 122, 131, 108, 115, 126,
                    103, 119, 129, 110, 101, 124, 114, 130, 107, 121,
                    127, 104, 117, 131, 109, 123, 102, 128, 113, 120,
                    130, 106, 125, 111, 119, 129, 103, 122, 116, 108,
                    127, 131, 112, 105, 124, 118, 130, 101, 121, 126,
                    110, 107, 129, 115, 123, 104, 128, 120,
                    109, 121, 104, 117, 125, 111, 100, 119, 123, 106,
                    114, 126, 108, 118, 102, 122, 113, 107, 124, 110,
                    119, 101, 116, 125, 108, 120, 105, 123, 112, 117,
                    103, 121, 110, 126,
                    124, 106, 118, 127, 109, 121, 103, 115, 129,
                    108, 120, 113, 126, 104, 117, 122, 110, 128, 105,
                    119, 114, 125, 107, 121, 111, 130, 102, 116, 123,
                    109, 127, 104, 118, 113, 125, 106, 120, 128, 111,
                    117, 103, 124, 115, 108, 126, 119, 105, 122, 113,
                    129, 107, 118, 124, 110, 116, 127, 104]

# ---- panel 3: PCEM ----
pcem_v = -2615
pcem_dacvl_v = -2595
pcem_limit_v = -2375
pcem_i = 1000
pcem_trip_i = 8000
pcem_dacvl_spike_day = [50.7, 64.2, 67.4, 67.6, 69.0, 80.8, 105.3, 108.5, 141.2, 215.7, 220.5,
                        233.5, 253.8, 256.3, 258.5, 260.3, 262.4, 264.4, 268.9, 272.3]
pcem_dacvl_spike_val = [-900, 0, 0, -2930, 0, 0, -1880, 0, 0, -1880, 0,
                        0, 0, 0, 0, 0, 0, 0, -2930, -2240]
pcem_limit_spike_day = [67.4, 67.6, 69.1, 80.9, 268.9]
pcem_limit_spike_val = [0, 0, 0, 0, 0]

# ---- panel 4: SCEM ----
scem_v = 2427
scem_dacvl_v = 2405
scem_limit_v = 490
scem_i = 1000
scem_trip_i = 2000
scem_dacvl_spike_day = [50.7, 64.2, 67.4, 67.6, 69.0, 80.8, 105.3, 108.5, 141.2, 215.7, 220.5,
                        233.5, 253.8, 256.3, 258.5, 260.3, 262.4, 264.4, 268.9, 272.3, 272.3]
scem_dacvl_spike_val = [914, 0, 0, 0, 0, 0, 1900, 0, 0, 1900, 0,
                        0, 0, 0, 0, 0, 0, 0, 0, 2124, 2700]
scem_limit_spike_day = [67.4, 67.6, 69.1, 80.9, 268.9]
scem_limit_spike_val = [2700, 2700, 2700, 2700, 2700]

# ---------------- figure ----------------
W, H = 2055, 1299
fig = plt.figure(figsize=(W / 100, H / 100), dpi=100)
fig.patch.set_facecolor('white')

GREEN = '#00aa00'
BLUE = '#0000ff'
RED = '#ff0000'
BROWN = '#aa5500'
PURPLE = '#aa55ff'
ORANGE = '#ffaa00'
LTBLUE = '#55aaff'
TICKC = '#555555'
LABC = '#333333'

tick_start, tick_step = 6.804, 36.4
tick_pos = tick_start + tick_step * np.arange(10)
minor_pos = tick_start + tick_step / 2 + tick_step * np.arange(10)


def make_panel(top, bottom):
    ax = fig.add_axes([127 / W, 1 - bottom / H, 1661 / W, (bottom - top) / H])
    axr = ax.twinx()
    ax.set_xlim(0, 364)
    for a in (ax, axr):
        for s in a.spines.values():
            s.set_color('#444444')
            s.set_linewidth(2)
        a.tick_params(axis='y', which='major', direction='out', length=6, width=1.2,
                      color=TICKC, labelcolor=LABC, labelsize=14, pad=2)
        a.tick_params(axis='y', which='minor', direction='out', length=3, width=1, color=TICKC)
    ax.set_xticks(tick_pos, labels=tick_labels)
    ax.xaxis.set_minor_locator(FixedLocator(minor_pos))
    ax.tick_params(axis='x', which='major', direction='inout', length=12, width=1.2,
                   color=TICKC, labelcolor=LABC, labelsize=14, pad=5)
    ax.tick_params(axis='x', which='minor', direction='out', length=6, width=1, color=TICKC)
    sec = ax.secondary_xaxis('top')
    sec.set_xticks(np.sort(np.concatenate([tick_pos, minor_pos])))
    sec.xaxis.set_major_formatter(NullFormatter())
    sec.tick_params(direction='in', length=5, width=1, color=TICKC)
    sec.spines['top'].set_color('#444444')
    sec.spines['top'].set_linewidth(2)
    fig.text(30 / W, 1 - (bottom + 26) / H, '2023', ha='center', va='center',
             fontsize=14, color='#111111')
    return ax, axr


def hseg(a, level, color, lw):
    # one horizontal run per data block
    a.hlines([level] * len(seg_start), seg_start, seg_end, color=color, lw=lw)


def legend(x_sq, x_txt, items):
    for label, color, y in items:
        fig.add_artist(Rectangle((x_sq / W, 1 - (y + 7) / H), 6 / W, 6 / H,
                                 transform=fig.transFigure, color=color, lw=0))
        fig.text(x_txt / W, 1 - y / H, label, ha='left', va='center', fontsize=14,
                 color='#111111')


def vspikes(a, days, base, vals, color, lw):
    n = min(len(days), len(vals))
    a.vlines(days[:n], [base] * n, vals[:n], color=color, lw=lw)


# ---- panel 1: temperatures ----
ax1, ax1r = make_panel(13, 381)
for i, st in enumerate(seg_start):
    for series, a, c in ((sensor_degC, ax1, 'black'), (hvussp_degC, ax1r, GREEN),
                         (cntrlr_degC, ax1r, BLUE)):
        v = np.asarray(series[i])
        t = st + SAMPLE * np.arange(len(v))
        a.plot(t, v, color=c, lw=2.0)
ax1.set_ylim(-10, 0)
ax1.yaxis.set_major_locator(MultipleLocator(1))
ax1.yaxis.set_minor_locator(MultipleLocator(0.2))
ax1r.set_ylim(0, 20)
ax1r.yaxis.set_major_locator(MultipleLocator(2))
ax1r.yaxis.set_minor_locator(MultipleLocator(0.4))
fig.text(12 / W, 1 - 197 / H, '(degC)', rotation=90, ha='center', va='center', fontsize=14)
fig.text(1920 / W, 1 - 197 / H, 'HVUSSP & CNTRLR\nTemperature\n(degC)', rotation=270,
         ha='center', va='center', fontsize=14, linespacing=1.3, multialignment='center')
legend(1961, 1971, [('Sensor', 'black', 25), ('HVUSSP', GREEN, 62), ('CNTRLR', BLUE, 101)])
fig.text(160 / W, 1 - 37 / H, 'HOUSEKEEPING', family='Liberation Sans', fontsize=34,
         ha='left', va='center', color='black')

# ---- panel 2: rails and currents ----
ax2, ax2r = make_panel(452, 645)
hseg(ax2, rail_plus5v, 'black', 2.6)
hseg(ax2, rail_plus2p5v, BLUE, 1.6)
hseg(ax2, rail_agnd, RED, 2.0)
hseg(ax2, rail_minus5v, GREEN, 2.4)
for s, e in zip(seg_start, seg_end):
    ax2r.fill_between([s, e], plus5i_band[0], plus5i_band[1], color=BROWN, lw=0)
vspikes(ax2r, plus5i_spike_day, np.mean(plus5i_band), plus5i_spike_mA, BROWN, 1.3)
for s, e in zip(seg_start, seg_end):
    ax2r.fill_between([s, e], minus5i_band[0], minus5i_band[1], color=PURPLE, lw=0)
vspikes(ax2r, minus5i_spike_day, np.mean(minus5i_band), minus5i_spike_mA, PURPLE, 1.3)
ax2.set_ylim(-5.36, 5.2)
ax2.yaxis.set_major_locator(MultipleLocator(2))
ax2.yaxis.set_minor_locator(MultipleLocator(0.5))
ax2r.set_ylim(9.2, 206.8)
ax2r.yaxis.set_major_locator(MultipleLocator(50))
ax2r.yaxis.set_minor_locator(MultipleLocator(10))
fig.text(1934 / W, 1 - 548 / H, 'Current\n(milliAmp)', rotation=270, ha='center',
         va='center', fontsize=14, linespacing=1.3, multialignment='center')
legend(1964, 1973, [('+5 V', 'black', 462), ('+2.5 V', BLUE, 502), ('AGND V', RED, 538),
                    ('-5 V', GREEN, 577), ('+5 I', BROWN, 618), ('-5 I', PURPLE, 658)])

micro_fmt = FuncFormatter(lambda v, p: '1e+6' if v >= 1e6 else '%d' % v)

# ---- panel 3: PCEM ----
ax3, ax3r = make_panel(719, 953)
hseg(ax3, pcem_v, 'black', 2.0)
hseg(ax3, pcem_dacvl_v, GREEN, 1.6)
vspikes(ax3, pcem_dacvl_spike_day, pcem_dacvl_v, pcem_dacvl_spike_val, GREEN, 1.5)
hseg(ax3, pcem_limit_v, ORANGE, 2.0)
vspikes(ax3, pcem_limit_spike_day, pcem_limit_v, pcem_limit_spike_val, ORANGE, 2.0)
hseg(ax3r, pcem_i, RED, 1.5)
hseg(ax3r, pcem_trip_i, LTBLUE, 2.0)
ax3.set_ylim(-2930, 0)
ax3.yaxis.set_major_locator(MultipleLocator(500))
ax3.yaxis.set_minor_locator(MultipleLocator(100))
ax3r.set_ylim(0, 1.055e6)
ax3r.yaxis.set_major_locator(MultipleLocator(200000))
ax3r.yaxis.set_minor_locator(MultipleLocator(40000))
ax3r.yaxis.set_major_formatter(micro_fmt)
fig.text(1888 / W, 1 - 838 / H, 'Current\n(microAmp)', rotation=270, ha='center',
         va='center', fontsize=14, linespacing=1.3, multialignment='center')
legend(1917, 1927, [('PCEM V', 'black', 730), ('DACVL V', GREEN, 770),
                    ('PCEM Limit V', ORANGE, 808), ('PCEM I', RED, 848),
                    ('PCEM Trip I', LTBLUE, 887)])

# ---- panel 4: SCEM ----
ax4, ax4r = make_panel(1022, 1263)
hseg(ax4, scem_v, 'black', 2.0)
hseg(ax4, scem_dacvl_v, GREEN, 1.6)
vspikes(ax4, scem_dacvl_spike_day, scem_dacvl_v, scem_dacvl_spike_val, GREEN, 1.5)
hseg(ax4, scem_limit_v, ORANGE, 2.0)
vspikes(ax4, scem_limit_spike_day, scem_limit_v, scem_limit_spike_val, ORANGE, 2.0)
hseg(ax4r, scem_i, RED, 1.5)
hseg(ax4r, scem_trip_i, LTBLUE, 2.0)
ax4.set_ylim(-18, 2643)
ax4.yaxis.set_major_locator(MultipleLocator(500))
ax4.yaxis.set_minor_locator(MultipleLocator(100))
ax4r.set_ylim(-3000, 1.057e6)
ax4r.yaxis.set_major_locator(MultipleLocator(200000))
ax4r.yaxis.set_minor_locator(MultipleLocator(40000))
ax4r.yaxis.set_major_formatter(micro_fmt)
fig.text(1888 / W, 1 - 1144 / H, 'Current\n(microAmp)', rotation=270, ha='center',
         va='center', fontsize=14, linespacing=1.3, multialignment='center')
legend(1917, 1927, [('SCEM V', 'black', 1033), ('DACVL V', GREEN, 1073),
                    ('SCEM Limit V', ORANGE, 1112), ('SCEM I', RED, 1152),
                    ('SCEM Trip I', LTBLUE, 1190)])

fig.text(983 / W, 1 - 1157 / H, 'Data Looks Good', family='Liberation Sans', fontsize=50,
         ha='center', va='center', color='#0a8a0a')

fig.savefig('out.png', dpi=100)
